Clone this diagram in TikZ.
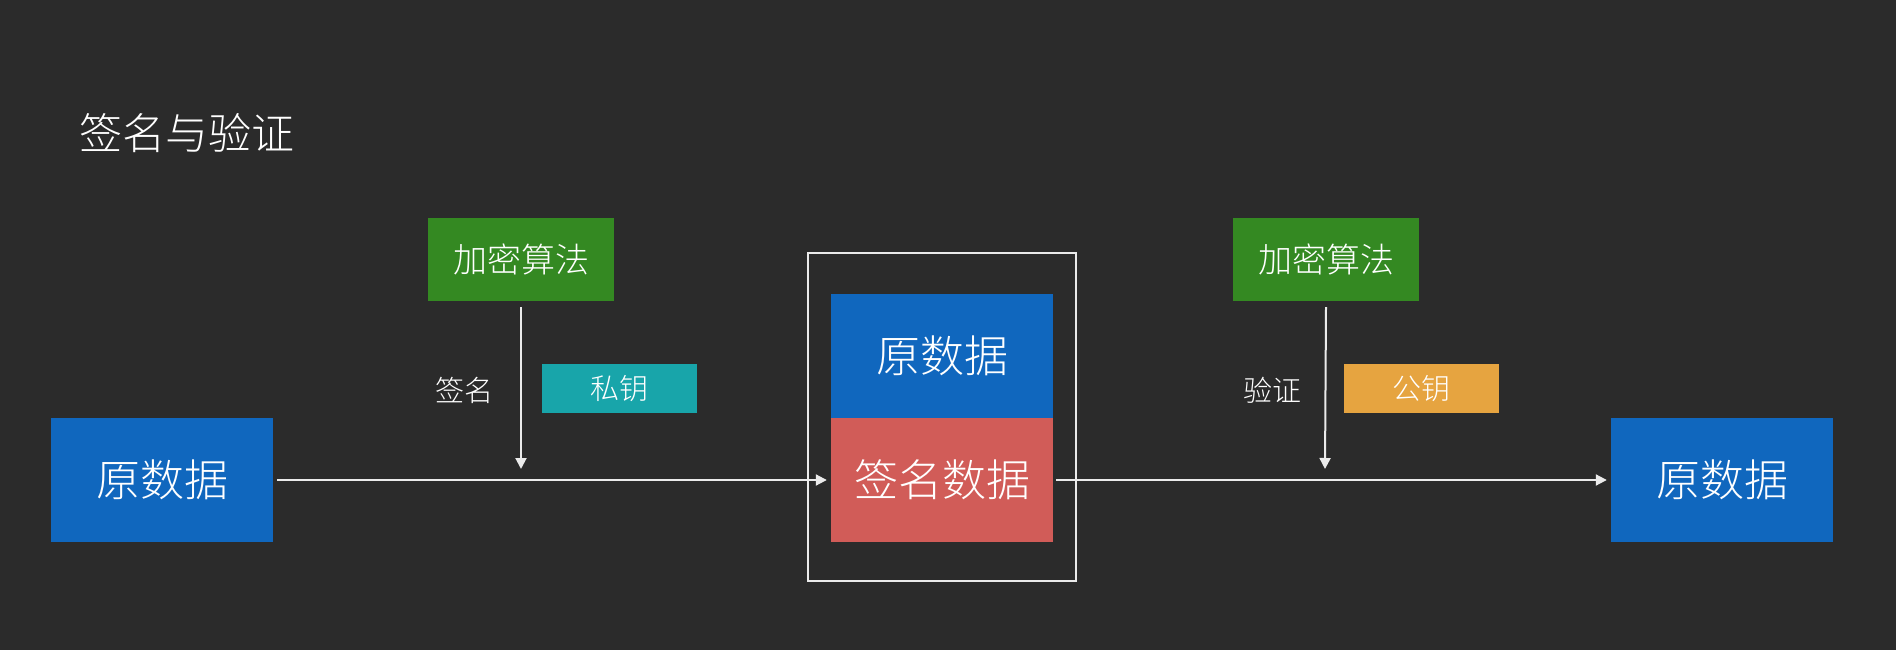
\documentclass[tikz,border=0pt]{standalone}
\usepackage{fontspec}
\newfontfamily\cjk{Noto Sans CJK SC}[UprightFont={* Light}]
\usetikzlibrary{arrows.meta}
\definecolor{bg}{RGB}{43,43,43}
\definecolor{databox}{RGB}{16,103,190}
\definecolor{signbox}{RGB}{209,92,88}
\definecolor{algobox}{RGB}{52,137,34}
\definecolor{privbox}{RGB}{24,165,170}
\definecolor{pubbox}{RGB}{230,164,64}
\definecolor{linecol}{RGB}{235,235,235}
\tikzset{
  box/.style={draw=none, inner sep=0pt, text=white, font=\cjk\fontsize{44}{48}\selectfont},
  algo/.style={box, fill=algobox, minimum width=186pt, minimum height=83pt, font=\cjk\fontsize{34}{38}\selectfont},
  keybox/.style={box, minimum width=155pt, minimum height=49pt, font=\cjk\fontsize{29}{32}\selectfont},
  lbl/.style={text=white, inner sep=0pt, font=\cjk\fontsize{29}{32}\selectfont},
  flow/.style={draw=linecol, line width=2pt, -{Triangle[width=11pt,length=11pt]}},
}
\begin{document}
\begin{tikzpicture}[x=1pt,y=-1pt]
  \fill[bg] (0,0) rectangle (1896,650);
  \useasboundingbox (0,0) rectangle (1896,650);

  % title
  \node[lbl, anchor=west, font=\cjk\fontsize{43}{46}\selectfont] (title) at (79,133) {签名与验证};

  % data blocks
  \node[box, fill=databox, minimum width=222pt, minimum height=124pt] (src) at (162,480) {原数据};
  \node[box, fill=databox, minimum width=222pt, minimum height=124pt] (dst) at (1722,480) {原数据};

  % signed package
  \node[box, fill=databox, minimum width=222pt, minimum height=124pt] (pdata) at (942,356) {原数据};
  \node[box, fill=signbox, minimum width=222pt, minimum height=124pt] (psig) at (942,480) {签名数据};
  \node[draw=linecol, line width=2pt, minimum width=268pt, minimum height=328pt, inner sep=0pt] (frame) at (942,417) {};

  % algorithms and keys
  \node[algo] (alg1) at (521,259.5) {加密算法};
  \node[algo] (alg2) at (1326,259.5) {加密算法};
  \node[keybox, fill=privbox] (priv) at (619.5,388.5) {私钥};
  \node[keybox, fill=pubbox] (pub) at (1421.5,388.5) {公钥};
  \node[lbl] (lsign) at (464,390) {签名};
  \node[lbl] (lver) at (1272,390) {验证};

  % connectors
  \coordinate (s1) at (521,469);
  \coordinate (s2) at (1325,469);
  \draw[flow] ([yshift=-6pt]alg1.south) -- (s1);
  \draw[flow] ([yshift=-6pt]alg2.south) -- (s2);
  \draw[flow] ([xshift=4pt]src.east) -- ([xshift=-4pt]psig.west);
  \draw[flow] ([xshift=3pt]psig.east) -- ([xshift=-4pt]dst.west);
\end{tikzpicture}
\end{document}
